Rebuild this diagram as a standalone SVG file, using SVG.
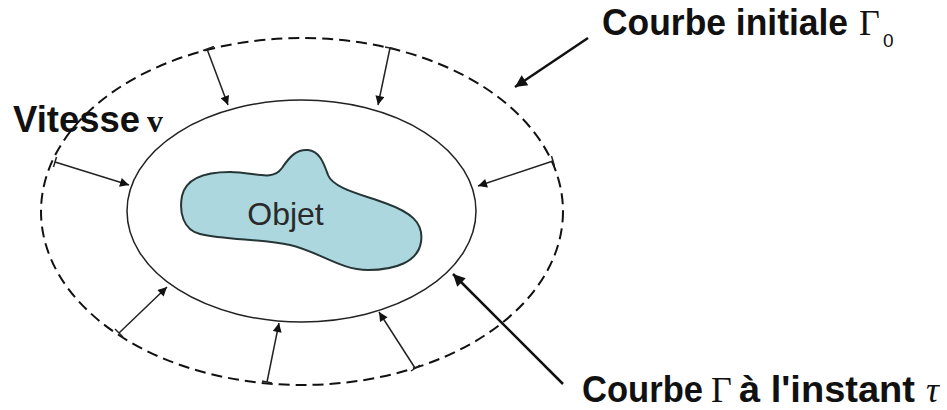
<svg xmlns="http://www.w3.org/2000/svg" width="947" height="410" viewBox="0 0 947 410">
<defs>
<marker id="ah" viewBox="0 0 10 10" refX="10" refY="5" markerWidth="12" markerHeight="9" markerUnits="userSpaceOnUse" orient="auto">
<path d="M0,0 L10,5 L0,10 Z" fill="#111"/>
</marker>
<marker id="ahb" viewBox="0 0 10 10" refX="10" refY="5" markerWidth="16" markerHeight="12" markerUnits="userSpaceOnUse" orient="auto">
<path d="M0,0 L10,5 L0,10 Z" fill="#111"/>
</marker>
<style>
.lbl{font-family:"Liberation Sans",Arial,sans-serif;font-weight:bold;font-size:36px;fill:#111}
.greek{font-family:"Liberation Serif","Times New Roman",serif;font-size:36px;font-weight:normal;fill:#111}
.v{stroke:#222;stroke-width:1.5;fill:none;marker-end:url(#ah)}
.tick{stroke:#222;stroke-width:1.5}
.ptr{stroke:#111;stroke-width:2.5;fill:none;marker-end:url(#ahb)}
</style>
</defs>
<rect width="947" height="410" fill="#fff"/>
<g id="outer-curve">
<ellipse cx="302" cy="211.5" rx="261" ry="173.5" fill="none" stroke="#111" stroke-width="2" stroke-dasharray="11 6"/>
</g>
<g id="inner-curve">
<ellipse cx="301.5" cy="211" rx="174.5" ry="111" fill="none" stroke="#222" stroke-width="1.5"/>
</g>
<g id="objet">
<path d="M182,196 C186,178 205,172 230,172 C255,172 272,182 282,168 C290,156 297,149 308,150 C320,151 324,164 328,175 C333,188 360,194 385,203 C410,212 424,222 421,242 C418,262 395,270 368,270 C340,270 320,252 290,245 C262,239 225,240 200,234 C183,230 179,212 182,196 Z" fill="#acd7de" stroke="#263636" stroke-width="2"/>
<text x="285.5" y="225" text-anchor="middle" font-family="'Liberation Sans',Arial,sans-serif" font-size="32" fill="#2a2a2a">Objet</text>
</g>
<g id="connectors">
<line class="v" x1="207" y1="49" x2="228" y2="105"/>
<line class="tick" x1="203" y1="50.5" x2="214" y2="46.5"/>
<line class="v" x1="390" y1="48" x2="378" y2="105"/>
<line class="tick" x1="385" y1="47" x2="395" y2="49"/>
<line class="v" x1="55" y1="162" x2="129" y2="185"/>
<line class="tick" x1="56.5" y1="157" x2="53.5" y2="167"/>
<line class="v" x1="553" y1="161" x2="478" y2="186"/>
<line class="tick" x1="551.5" y1="156" x2="554.5" y2="166"/>
<line class="v" x1="119" y1="333" x2="167" y2="287"/>
<line class="tick" x1="115" y1="329" x2="123" y2="337"/>
<line class="v" x1="267" y1="382" x2="279" y2="323"/>
<line class="tick" x1="262" y1="381" x2="272" y2="383"/>
<line class="v" x1="415" y1="368" x2="379" y2="312"/>
<line class="tick" x1="411" y1="371" x2="420" y2="365"/>
<line class="ptr" x1="588" y1="38" x2="515" y2="87"/>
<line class="ptr" x1="563" y1="384" x2="453" y2="274"/>
</g>
<g id="label-initiale">
<text class="lbl" x="602" y="35" textLength="246" lengthAdjust="spacingAndGlyphs">Courbe initiale</text>
<text class="greek" x="859" y="35">Γ</text>
<text x="883" y="47" font-family="'Liberation Sans',Arial,sans-serif" font-size="19" fill="#111">0</text>
</g>
<g id="label-instant">
<text class="lbl" x="582" y="402" textLength="121" lengthAdjust="spacingAndGlyphs">Courbe</text>
<text class="greek" x="711" y="402">Γ</text>
<text class="lbl" x="739" y="402" textLength="176" lengthAdjust="spacingAndGlyphs">à l'instant</text>
<text class="greek" x="926" y="402" font-style="italic" font-size="30">τ</text>
</g>
<g id="label-vitesse">
<text class="lbl" x="13" y="132" textLength="127" lengthAdjust="spacingAndGlyphs">Vitesse</text>
<text x="147" y="132" font-family="'Liberation Serif','Times New Roman',serif" font-weight="bold" font-size="32" fill="#111">v</text>
</g>
</svg>
